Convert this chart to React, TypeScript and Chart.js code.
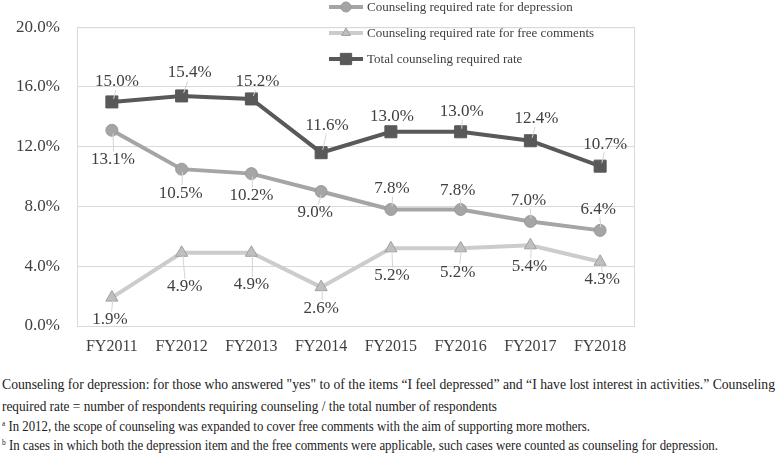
import React, { useEffect, useRef } from "react";
import { Chart, registerables } from "chart.js";

Chart.register(...registerables);

const CATEGORIES = ["FY2011", "FY2012", "FY2013", "FY2014", "FY2015", "FY2016", "FY2017", "FY2018"];
const DEPRESSION = [13.1, 10.5, 10.2, 9.0, 7.8, 7.8, 7.0, 6.4];
const FREE_COMMENTS = [1.9, 4.9, 4.9, 2.6, 5.2, 5.2, 5.4, 4.3];
const TOTAL = [15.0, 15.4, 15.2, 11.6, 13.0, 13.0, 12.4, 10.7];
const SERIES_NAMES = [
  "Counseling required rate for depression",
  "Counseling required rate for free comments",
  "Total counseling required rate",
];
const Y_MIN = 0;
const Y_MAX = 20;
const Y_STEP = 4;

const FOOTNOTES = [
  { sup: "", text: "Counseling for depression: for those who answered \"yes\" to of the items \u201cI feel depressed\u201d and \u201cI have lost interest in activities.\u201d Counseling" },
  { sup: "", text: "required rate = number of respondents requiring counseling / the total number of respondents" },
  { sup: "a", text: " In 2012, the scope of counseling was expanded to cover free comments with the aim of supporting more mothers." },
  { sup: "b", text: " In cases in which both the depression item and the free comments were applicable, such cases were counted as counseling for depression." },
];

// label placement relative to each point [dx, dy] in px (layout only)
const DEPRESSION_LABEL_OFFSETS = [[1, 29], [-1, 24], [0, 22], [-6, 21], [1, -21], [-3, -19], [-2, -21], [-2, -21]];
const FREE_LABEL_OFFSETS = [[-2, 22], [3, 34], [0, 32], [0, 21], [1, 27], [-3, 24], [-1, 21], [2, 18]];
const TOTAL_LABEL_OFFSETS = [[5, -20], [8, -23], [6, -17], [6, -27], [1, -15], [1, -20], [6, -22], [5, -22]];
const LABEL_OFFSETS = [DEPRESSION_LABEL_OFFSETS, FREE_LABEL_OFFSETS, TOTAL_LABEL_OFFSETS];

const FOOT_TOPS = [375, 397, 417, 436];
const FOOT_WIDTHS = [773, 495, 588, 716];

const SERIF = "'Liberation Serif', 'Times New Roman', serif";
const TEXT_COLOR = "#404040";

function drawMarker(ctx: CanvasRenderingContext2D, style: string, x: number, y: number, r: number, fill: string, stroke: string) {
  ctx.save();
  ctx.fillStyle = fill;
  ctx.strokeStyle = stroke;
  ctx.lineWidth = 1;
  ctx.beginPath();
  if (style === "circle") {
    ctx.arc(x, y, r, 0, Math.PI * 2);
  } else if (style === "triangle") {
    ctx.moveTo(x, y - r);
    ctx.lineTo(x + r * 0.866, y + r * 0.5);
    ctx.lineTo(x - r * 0.866, y + r * 0.5);
    ctx.closePath();
  } else {
    const s = r * 0.707;
    ctx.rect(x - s, y - s, 2 * s, 2 * s);
  }
  ctx.fill();
  ctx.stroke();
  ctx.restore();
}

const frameAndLabels = {
  id: "frameAndLabels",
  beforeDatasetsDraw(chart: any) {
    const { ctx, chartArea } = chart;
    ctx.save();
    ctx.strokeStyle = "#d9d9d9";
    ctx.lineWidth = 1;
    ctx.strokeRect(chartArea.left + 0.5, chartArea.top + 0.5, chartArea.right - chartArea.left - 1, chartArea.bottom - chartArea.top);
    ctx.restore();
  },
  afterDatasetsDraw(chart: any) {
    const { ctx } = chart;
    ctx.save();
    chart.data.datasets.forEach((ds: any, di: number) => {
      const meta = chart.getDatasetMeta(di);
      meta.data.forEach((pt: any, i: number) => {
        const [dx, dy] = LABEL_OFFSETS[di][i];
        const lx = pt.x + dx;
        const ly = pt.y + dy;
        const dist = Math.abs(dy);
        if (dist > 16) {
          const sign = dy > 0 ? 1 : -1;
          const y0 = pt.y + sign * 3;
          const y1 = ly - sign * 8;
          const t0 = 3 / dist;
          const t1 = (dist - 8) / dist;
          ctx.strokeStyle = "#d4d4d4";
          ctx.lineWidth = 1;
          ctx.beginPath();
          ctx.moveTo(pt.x + dx * t0 + 1, y0);
          ctx.lineTo(pt.x + dx * t1 + 1, y1);
          ctx.stroke();
        }
        ctx.fillStyle = TEXT_COLOR;
        ctx.font = `17px ${SERIF}`;
        ctx.textAlign = "center";
        ctx.textBaseline = "middle";
        ctx.fillText(ds.data[i].toFixed(1) + "%", lx, ly);
      });
    });
    ctx.restore();
  },
  afterDraw(chart: any) {
    const { ctx } = chart;
    ctx.save();
    const ys = [7, 33, 59];
    chart.data.datasets.forEach((ds: any, di: number) => {
      const y = ys[di];
      ctx.strokeStyle = ds.borderColor;
      ctx.lineWidth = 4;
      ctx.beginPath();
      ctx.moveTo(329, y);
      ctx.lineTo(363, y);
      ctx.stroke();
      drawMarker(ctx, ds.pointStyle, 346, y, ds.pointStyle === "rect" ? 8 : 5, ds.pointBackgroundColor, ds.pointBorderColor);
      ctx.fillStyle = TEXT_COLOR;
      ctx.font = `13px ${SERIF}`;
      ctx.textAlign = "left";
      ctx.textBaseline = "middle";
      ctx.fillText(SERIES_NAMES[di], 367, y + 1);
    });
    ctx.restore();
  },
};

export default function App() {
  const canvasRef = useRef<HTMLCanvasElement | null>(null);
  const footRefs = useRef<(HTMLSpanElement | null)[]>([]);

  useEffect(() => {
    document.body.style.margin = "0";
    const canvas = canvasRef.current;
    if (!canvas) return;
    const chart = new Chart(canvas, {
      type: "line",
      data: {
        labels: CATEGORIES,
        datasets: [
          {
            label: SERIES_NAMES[0],
            data: DEPRESSION,
            borderColor: "#a5a5a5",
            borderWidth: 4,
            pointStyle: "circle",
            pointRadius: 6,
            pointBackgroundColor: "#a5a5a5",
            pointBorderColor: "#9a9a9a",
            pointBorderWidth: 1,
            tension: 0,
          },
          {
            label: SERIES_NAMES[1],
            data: FREE_COMMENTS,
            borderColor: "#cccccc",
            borderWidth: 4,
            pointStyle: "triangle",
            pointRadius: 7,
            pointBackgroundColor: "#bfbfbf",
            pointBorderColor: "#a0a0a0",
            pointBorderWidth: 1,
            tension: 0,
          },
          {
            label: SERIES_NAMES[2],
            data: TOTAL,
            borderColor: "#595959",
            borderWidth: 4,
            pointStyle: "rect",
            pointRadius: 8.5,
            pointBackgroundColor: "#595959",
            pointBorderColor: "#595959",
            pointBorderWidth: 1,
            tension: 0,
          },
        ],
      },
      options: {
        responsive: false,
        animation: false,
        layout: { padding: { top: 20, right: 143, left: 0, bottom: 0 } },
        plugins: {
          legend: { display: false },
          tooltip: { enabled: false },
        },
        scales: {
          x: {
            offset: true,
            grid: { display: false, drawTicks: false },
            border: { display: false },
            ticks: { color: TEXT_COLOR, font: { family: SERIF, size: 16 }, padding: 11, maxRotation: 0 },
            afterFit: (s: any) => { s.height = 34; },
          },
          y: {
            min: Y_MIN,
            max: Y_MAX,
            ticks: {
              stepSize: Y_STEP,
              color: TEXT_COLOR,
              font: { family: SERIF, size: 17 },
              padding: 17,
              callback: (v: any) => Number(v).toFixed(1) + "%",
            },
            grid: { color: "#d9d9d9", lineWidth: 1, drawTicks: false },
            border: { display: false },
            afterFit: (s: any) => { s.width = 77; },
          },
        },
      },
      plugins: [frameAndLabels],
    });

    footRefs.current.forEach((el, i) => {
      if (!el) return;
      const w = el.getBoundingClientRect().width;
      if (w > 0) el.style.transform = `scaleX(${FOOT_WIDTHS[i] / w})`;
    });

    return () => chart.destroy();
  }, []);

  return (
    <div style={{ position: "relative", width: 778, height: 453, background: "#ffffff", overflow: "hidden" }}>
      <canvas ref={canvasRef} width={778} height={360} style={{ position: "absolute", left: 0, top: 0, width: 778, height: 360 }} />
      {FOOTNOTES.map((f, i) => (
        <span
          key={i}
          ref={(el) => { footRefs.current[i] = el; }}
          style={{
            position: "absolute",
            left: 2,
            top: FOOT_TOPS[i],
            height: 20,
            fontFamily: SERIF,
            fontSize: 14,
            lineHeight: "20px",
            color: "#222222",
            whiteSpace: "nowrap",
            transformOrigin: "0 0",
            display: "inline-block",
          }}
        >
          {f.sup ? (
            <span style={{ fontSize: 8, position: "relative", top: -5, lineHeight: "8px" }}>{f.sup}</span>
          ) : null}
          {f.text}
        </span>
      ))}
    </div>
  );
}
